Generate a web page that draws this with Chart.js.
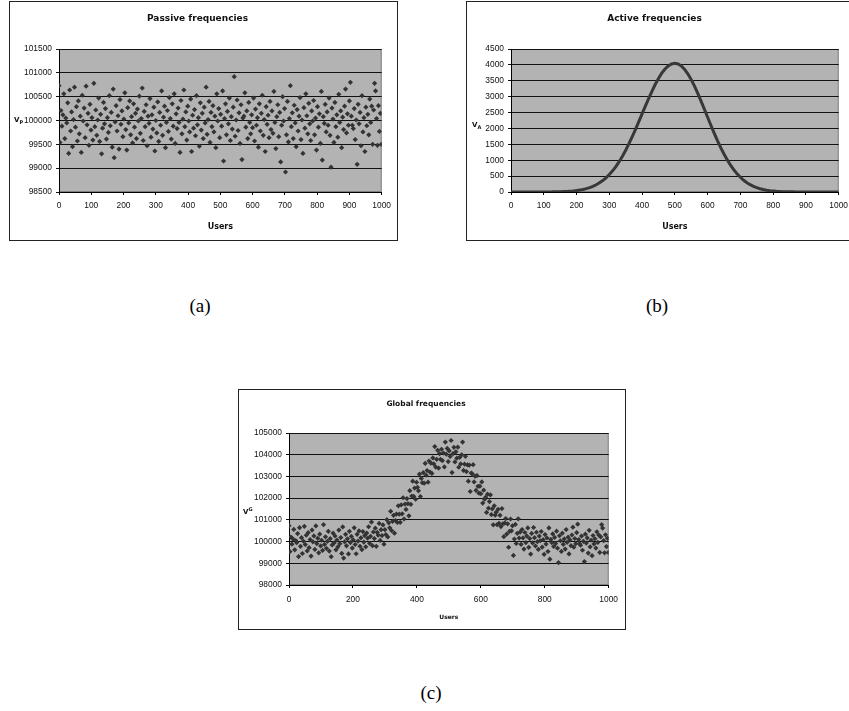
<!DOCTYPE html>
<html><head><meta charset="utf-8">
<script src="https://cdn.jsdelivr.net/npm/chart.js@4.4.1/dist/chart.umd.min.js"></script>
<style>
html,body{margin:0;padding:0;background:#fff;width:849px;height:711px;overflow:hidden;position:relative;}
.box{position:absolute;border:1px solid #222;background:#fff;}
.box canvas{display:block;}
.ylab{position:absolute;font:bold 7px "DejaVu Sans",sans-serif;color:#111;white-space:nowrap;line-height:10px;}
.ylab sub{font-size:5px;vertical-align:-2px;}
.ylab sup{font-size:5px;vertical-align:3px;}
.cap{position:absolute;width:60px;text-align:center;font:19px "Liberation Serif",serif;color:#000;line-height:20px;}
</style></head><body>
<div class="box" style="left:9px;top:1px;"><canvas id="cA" width="387" height="238"></canvas></div>
<div class="box" style="left:466px;top:1px;"><canvas id="cB" width="387" height="238"></canvas></div>
<div class="box" style="left:238px;top:389px;"><canvas id="cC" width="386" height="239"></canvas></div>
<div class="ylab" style="left:14px;top:115px;">V<sub>P</sub></div>
<div class="ylab" style="left:472px;top:120px;">V<sub>A</sub></div>
<div class="ylab" style="left:243px;top:504px;">V<sup>G</sup></div>
<div class="cap" style="left:170px;top:296px;">(a)</div>
<div class="cap" style="left:627px;top:296px;">(b)</div>
<div class="cap" style="left:401px;top:683px;">(c)</div>
<script>
const users = [
0,3,6,9,12,15,18,21,24,27,30,33,36,39,42,45,48,51,54,57,
60,63,66,69,72,75,78,81,84,87,90,93,96,99,102,105,108,111,114,117,
120,123,126,129,132,135,138,141,144,147,150,153,156,159,162,165,168,171,174,177,
180,183,186,189,192,195,198,201,204,207,210,213,216,219,222,225,228,231,234,237,
240,243,246,249,252,255,258,261,264,267,270,273,276,279,282,285,288,291,294,297,
300,303,306,309,312,315,318,321,324,327,330,333,336,339,342,345,348,351,354,357,
360,363,366,369,372,375,378,381,384,387,390,393,396,399,402,405,408,411,414,417,
420,423,426,429,432,435,438,441,444,447,450,453,456,459,462,465,468,471,474,477,
480,483,486,489,492,495,498,501,504,507,510,513,516,519,522,525,528,531,534,537,
540,543,546,549,552,555,558,561,564,567,570,573,576,579,582,585,588,591,594,597,
600,603,606,609,612,615,618,621,624,627,630,633,636,639,642,645,648,651,654,657,
660,663,666,669,672,675,678,681,684,687,690,693,696,699,702,705,708,711,714,717,
720,723,726,729,732,735,738,741,744,747,750,753,756,759,762,765,768,771,774,777,
780,783,786,789,792,795,798,801,804,807,810,813,816,819,822,825,828,831,834,837,
840,843,846,849,852,855,858,861,864,867,870,873,876,879,882,885,888,891,894,897,
900,903,906,909,912,915,918,921,924,927,930,933,936,939,942,945,948,951,954,957,
960,963,966,969,972,975,978,981,984,987,990,993,996,999];

const passiveValues = [
100730,99540,100210,99880,100120,100560,99620,100050,99950,100370,99310,100640,99780,100180,99450,100020,100700,99860,100290,99570,
100410,99720,100090,99330,100530,99990,100260,99640,100720,99910,100150,99480,100340,99800,100060,99590,100780,99870,100220,99690,
100010,100470,99560,100130,99300,99840,100380,99930,100250,99610,100060,99750,100520,99890,100170,99440,100660,99220,99970,100310,
99780,100100,99400,100440,99920,100200,99660,100030,100580,99810,99380,100270,99950,100410,99700,100080,99530,100350,99860,100150,
99620,100240,99990,100510,99730,100040,100680,99580,100190,99870,100330,99470,100090,99940,100460,99650,100120,99820,100280,99360,
100000,99740,100390,99560,100170,99900,100620,99690,100070,100300,99430,99960,100210,99770,100480,100040,99610,100350,99880,100560,
99520,100140,99830,100260,99960,99330,100420,99720,100030,100640,99870,100180,99590,100300,99990,99760,100450,99350,100110,99840,
100230,99680,100520,99910,100060,99460,100370,99800,100150,99620,100280,99950,100700,99710,100020,100400,99540,100170,99870,100310,
99760,100090,99430,100560,99990,100250,99640,100130,99880,100620,99150,100040,100350,99700,100190,99930,100470,99580,100080,99820,
100280,100920,99670,100010,100430,99790,100160,99520,100330,99180,100050,100090,100580,99860,100200,99620,100380,99960,99720,100120,
99850,100470,99570,100240,99900,100060,99440,100350,99780,100150,100530,99690,100020,99350,100290,99920,100110,99640,100400,99810,
100200,99730,100610,99960,99410,100080,100330,99660,100170,99130,99900,100500,99990,100250,98920,99700,100400,99550,100040,100730,
99870,100160,99620,100320,99950,99450,100230,99780,100090,100480,99600,100010,99310,100270,99840,100560,100100,99720,100360,99930,
99580,100200,99990,100420,99700,100050,99380,100290,99860,100140,99520,100610,99170,100080,99940,100340,99760,100180,99900,100470,
99690,99020,100260,100030,99540,100380,99870,100120,99650,100550,99960,100200,99430,100070,99810,100300,100660,99740,100140,99900,
100410,100800,100090,99900,99830,100250,99600,100010,99080,100340,99930,100170,99470,100520,99760,100060,99350,100280,99890,100130,
99700,100450,99960,100300,99500,100220,100780,100620,100040,99480,100310,99770,100150,99500];

const globalValues = [
100730,99540,100210,99880,100120,100560,99620,100050,99950,100370,99310,100640,99780,100180,99450,100020,100700,99860,100290,99570,
100410,99720,100090,99330,100530,99990,100260,99640,100720,99910,100150,99480,100340,99800,100060,99590,100780,99870,100220,99690,
100013,100473,99564,100134,99304,99845,100386,99936,100257,99618,100069,99760,100531,99902,100183,99455,100676,99238,99990,100332,
99804,100127,99429,100472,99955,100239,99702,100076,100631,99865,99440,100336,100022,100488,99785,100173,99631,100459,99978,100276,
99758,100390,100152,100683,99918,100242,100897,99813,100441,100140,100618,99780,100421,100293,100837,100054,100550,100277,100768,99878,
100548,100323,101009,100214,100863,100634,101394,100506,100933,101209,100385,100966,101268,100879,101644,101261,100887,101686,101277,102019,
101040,101726,101482,101978,101746,101186,102345,101715,102097,102780,102082,102465,101948,102732,102495,102339,103102,102075,102907,102709,
103171,102690,103598,103057,103273,102737,103710,103202,103609,103137,103854,103574,104373,103433,103786,104206,103385,104052,103781,104251,
103730,104078,103436,104584,104024,104290,103686,104178,103921,104655,103178,104049,104339,103670,104132,103840,104348,103423,103880,103576,
103993,104580,103277,103565,103926,103224,103532,102783,103525,102307,103155,103122,103539,102745,103012,102356,103040,102544,102228,102551,
102204,102748,101772,102366,101952,102038,101343,102181,101540,101840,102149,101243,101507,100770,101647,101217,101346,100780,101484,100839,
101210,100690,101520,100821,100225,100851,101057,100345,100817,99739,100471,101039,100496,100724,99364,100117,100789,99912,100379,101046,
100163,100434,99875,100556,100170,99654,100418,99954,100251,100629,99736,100136,99426,100376,99936,100648,100181,99796,100430,99994,
99638,100253,100038,100464,99740,100086,99413,100320,99887,100164,99542,100630,99188,100097,99955,100354,99772,100191,99910,100479,
99697,99027,100267,100037,99545,100385,99874,100124,99653,100553,99963,100203,99433,100072,99812,100302,100662,99742,100141,99901,
100411,100801,100091,99901,99831,100251,99601,100011,99081,100341,99930,100170,99470,100520,99760,100060,99350,100280,99890,100130,
99700,100450,99960,100300,99500,100220,100780,100620,100040,99480,100310,99770,100150,99500];

const activeUsers = [0,10,20,30,40,50,60,70,80,90,100,110,120,130,140,150,160,170,180,190,
200,210,220,230,240,250,260,270,280,290,300,310,320,330,340,350,360,370,380,390,
400,410,420,430,440,450,460,470,480,490,500,510,520,530,540,550,560,570,580,590,
600,610,620,630,640,650,660,670,680,690,700,710,720,730,740,750,760,770,780,790,
800,810,820,830,840,850,860,870,880,890,900,910,920,930,940,950,960,970,980,990,1000];
const activeValues = [0,0,0,0,0,0,0,0,0,1,1,2,3,4,6,9,12,17,24,33,
45,60,80,106,138,178,227,288,360,447,548,666,801,955,1126,1315,1520,1740,1971,2212,
2456,2701,2941,3170,3383,3574,3739,3872,3970,4030,4050,4028,3963,3857,3713,3537,3331,3105,2862,2610,
2354,2101,1854,1619,1398,1195,1010,844,698,571,463,370,293,230,178,136,103,78,58,42,
31,22,16,11,8,5,4,3,2,1,0,0,0,0,0,0,0,0,0,0,0];

const passiveTicks = [98500,99000,99500,100000,100500,101000,101500];
const activeTicks = [0,500,1000,1500,2000,2500,3000,3500,4000,4500];
const globalTicks = [98000,99000,100000,101000,102000,103000,104000,105000];
const userTicksAB = [0,100,200,300,400,500,600,700,800,900,1000];
const userTicksC = [0,200,400,600,800,1000];
const chartTitles = ['Passive frequencies','Active frequencies','Global frequencies'];
const xAxisTitle = 'Users';

const TITLE_FONT = '"DejaVu Sans", sans-serif';
const TICK_FONT = '"Liberation Sans", Arial, sans-serif';

const plotBg = {
  id: 'plotBg',
  beforeDraw(chart) {
    const {ctx, chartArea: a} = chart;
    ctx.save();
    ctx.fillStyle = '#b3b3b3';
    ctx.fillRect(a.left, a.top, a.right - a.left, a.bottom - a.top);
    ctx.strokeStyle = '#808080';
    ctx.lineWidth = 1;
    ctx.strokeRect(a.left + 0.5, a.top + 0.5, a.right - a.left - 1, a.bottom - a.top - 1);
    ctx.restore();
  }
};

function pts(xs, ys) { return xs.map((x, i) => ({x: x, y: ys[i]})); }

function build(id, o) {
  return new Chart(document.getElementById(id), {
    type: 'scatter',
    data: { datasets: [o.dataset] },
    options: {
      responsive: false, animation: false, devicePixelRatio: 1,
      layout: { padding: { left: 0, right: o.padRight, top: 0, bottom: 0 } },
      plugins: {
        legend: { display: false }, tooltip: { enabled: false },
        title: { display: true, text: o.title, color: '#111',
          font: { family: TITLE_FONT, size: o.titleSize, weight: 'bold', lineHeight: '12px' },
          padding: { top: o.titleTop, bottom: o.titleBottom } }
      },
      scales: {
        x: {
          type: 'linear', min: 0, max: 1000,
          afterBuildTicks: s => { s.ticks = o.xTicks.map(v => ({value: v})); },
          afterFit: s => { s.height = o.xH; },
          ticks: { color: '#111', font: { family: TICK_FONT, size: o.tickSize }, padding: o.xPad,
                   maxRotation: 0, autoSkip: false, callback: v => String(v) },
          grid: { display: true, drawOnChartArea: false, drawTicks: true, tickLength: 3, color: '#000' },
          border: { display: true, color: '#000', width: 1 },
          title: { display: true, text: xAxisTitle, color: '#111',
                   font: { family: TITLE_FONT, size: o.axisTitleSize, weight: 'bold' },
                   padding: { top: 2, bottom: o.axisTitleBottom } }
        },
        y: {
          type: 'linear', min: o.yTicks[0], max: o.yTicks[o.yTicks.length - 1],
          afterBuildTicks: s => { s.ticks = o.yTicks.map(v => ({value: v})); },
          afterFit: s => { s.width = o.yW; },
          ticks: { color: '#111', font: { family: TICK_FONT, size: o.tickSize }, padding: 4,
                   autoSkip: false, callback: v => String(v) },
          grid: { color: '#111', lineWidth: 1, drawTicks: true, tickLength: 3 },
          border: { display: true, color: '#000', width: 1 }
        }
      }
    },
    plugins: [plotBg]
  });
}

const markerDs = (vals) => ({
  data: pts(users, vals), pointStyle: 'rectRot', pointRadius: 2.6,
  pointBackgroundColor: '#333333', pointBorderWidth: 0, showLine: false
});

build('cA', {
  dataset: markerDs(passiveValues), title: chartTitles[0], titleSize: 9, titleTop: 11, titleBottom: 24,
  padRight: 12, xH: 48, yW: 49, xTicks: userTicksAB, yTicks: passiveTicks, tickSize: 8.4, xPad: 6,
  axisTitleSize: 8, axisTitleBottom: 8
});

build('cB', {
  dataset: { data: pts(activeUsers, activeValues), showLine: true, borderColor: '#383838', borderWidth: 3,
             pointRadius: 0, tension: 0 },
  title: chartTitles[1], titleSize: 9, titleTop: 11, titleBottom: 24,
  padRight: 12, xH: 48, yW: 44, xTicks: userTicksAB, yTicks: activeTicks, tickSize: 8.4, xPad: 6,
  axisTitleSize: 8, axisTitleBottom: 8
});

build('cC', {
  dataset: markerDs(globalValues), title: chartTitles[2], titleSize: 7.5, titleTop: 8, titleBottom: 23,
  padRight: 12, xH: 44, yW: 50, xTicks: userTicksC, yTicks: globalTicks, tickSize: 8.4, xPad: 7,
  axisTitleSize: 6, axisTitleBottom: 8
});
</script>
</body></html>
